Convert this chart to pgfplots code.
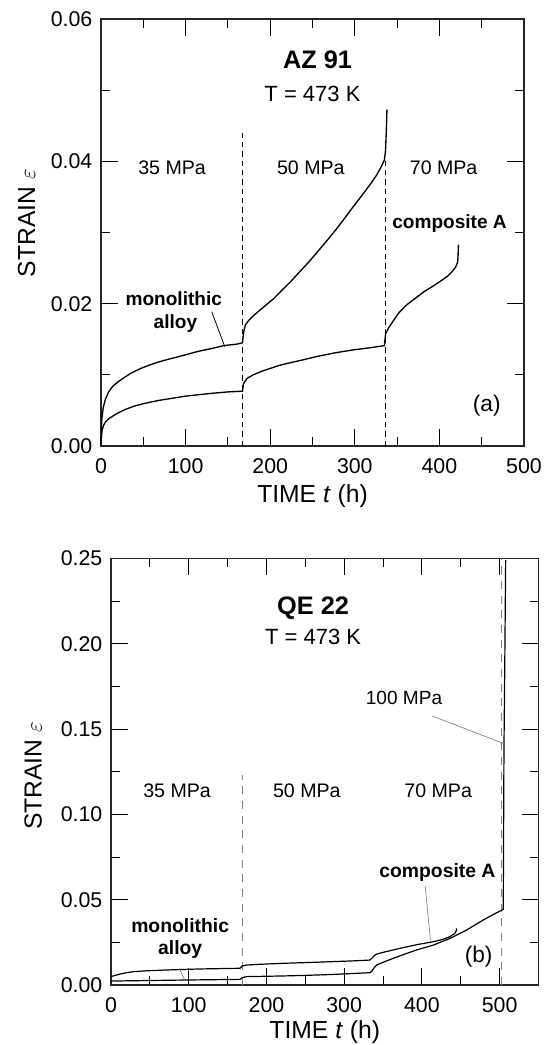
\documentclass[border=0pt]{standalone}
\usepackage{pgfplots}
\pgfplotsset{compat=1.18}
\usepackage{fontspec}
\setmainfont{Liberation Sans}
\newcommand\fs[1]{\fontsize{#1}{#1}\selectfont}
\begin{document}
\begin{tikzpicture}
\useasboundingbox (0,0) rectangle (416.25pt,783.75pt);
\pgfplotsset{
  creep/.style={
    scale only axis, anchor=south west, clip=false,
    axis line style={line width=1pt, draw=black!85},
    tick pos=both, tick align=inside,
    major tick length=12.5pt, minor tick length=6.5pt,
    every tick/.style={black, line width=0.7pt},
    minor x tick num=1, minor y tick num=1,
    scaled ticks=false,
    /pgf/number format/assume math mode=true,
    tick label style={font=\fs{16}},
    yticklabel style={/pgf/number format/fixed, /pgf/number format/fixed zerofill, /pgf/number format/precision=2, xshift=-3pt},
    xticklabel style={yshift=-6pt},
    label style={font=\fs{18.5}},
    ylabel={STRAIN $\varepsilon$},
    xlabel={TIME \textit{t} (h)},
  }
}
% ---------------- panel (a)
\begin{axis}[creep,
  at={(75.75pt,449.25pt)}, width=317.25pt, height=320.25pt,
  xmin=0, xmax=500, ymin=0, ymax=0.06,
  xtick={0,100,...,500}, ytick={0,0.02,0.04,0.06},
  xlabel style={at={(axis description cs:0.5,0)}, anchor=base, yshift=-42.5pt},
  ylabel style={at={(axis description cs:-0.156,0.522)}, anchor=base},
]
\addplot[black, line width=0.6pt, dash pattern=on 4pt off 3pt] coordinates {(167.6,0) (167.6,0.0440)};
\addplot[black, line width=0.6pt, dash pattern=on 4pt off 3pt] coordinates {(335.7,0) (335.7,0.0400)};
% monolithic alloy
\addplot[black, line width=1pt] coordinates {
(0,0) (0.3,0.0020) (1,0.0038) (2.5,0.0053) (5,0.0065) (9,0.0076) (14,0.0084) (20,0.0090)
(26,0.0095) (35,0.0102) (47,0.0109) (58,0.0114) (68,0.0118) (80,0.0122) (90,0.0125)
(99.5,0.0128) (115,0.0133) (131,0.0137) (145,0.0141) (152,0.0142) (160,0.0143) (167.3,0.0145)
(167.8,0.0152) (168.6,0.0160) (170.6,0.0170) (175,0.0177) (182,0.0185) (194,0.0197)
(204,0.0207) (214,0.0219) (225,0.0232) (235,0.0245) (246,0.0259) (256,0.0273) (266,0.0287)
(277,0.0303) (288,0.0320) (298,0.0336) (309,0.0353) (319,0.0369) (326,0.0381) (331.5,0.0393)
(335,0.0402) (336.3,0.0415) (337,0.0435) (337.6,0.0455) (338,0.0473)};
% composite A
\addplot[black, line width=1pt] coordinates {
(0,0) (0.4,0.0012) (1.3,0.0022) (3,0.0029) (5.4,0.0034) (10,0.0039) (18,0.0045) (28,0.0051)
(39,0.0056) (52,0.0060) (68,0.0064) (84,0.0067) (99.5,0.0070) (115,0.0072) (131,0.0074)
(150,0.0076) (167.3,0.0077) (167.8,0.0082) (168.6,0.0088) (172.7,0.0095) (180,0.0100)
(190,0.0105) (200,0.0109) (210,0.0113) (220,0.0116) (235,0.0120) (256,0.0126) (277,0.0131)
(298,0.0135) (318,0.0138) (335,0.0141) (335.7,0.0150) (336.5,0.0158) (340,0.0166) (345,0.0175)
(352,0.0187) (361,0.0198) (372,0.0208) (382,0.0217) (393,0.0225) (403,0.0233) (410,0.0239)
(415,0.0245) (419,0.0251) (421.5,0.0258) (422,0.0265) (422.5,0.0283)};
\draw[black, line width=0.6pt] (axis cs:130.9,0.01886) -- (axis cs:146.3,0.01395);
\node[font=\fs{19}\bfseries, anchor=base] at (axis cs:256,0.0530) {AZ 91};
\node[font=\fs{16.5}, anchor=base] at (axis cs:250,0.0484) {T = 473 K};
\node[font=\fs{14.7}, anchor=base] at (axis cs:84,0.0381) {35 MPa};
\node[font=\fs{14.7}, anchor=base] at (axis cs:248,0.0381) {50 MPa};
\node[font=\fs{14.7}, anchor=base] at (axis cs:405,0.0381) {70 MPa};
\node[font=\fs{14.3}\bfseries, anchor=base] at (axis cs:412,0.0306) {composite A};
\node[font=\fs{14.3}\bfseries, anchor=base] at (axis cs:86,0.0197) {monolithic};
\node[font=\fs{14.3}\bfseries, anchor=base] at (axis cs:88,0.0165) {alloy};
\node[font=\fs{17}, anchor=base] at (axis cs:456,0.0048) {(a)};
\end{axis}
% ---------------- panel (b)
\begin{axis}[creep,
  at={(83.25pt,45pt)}, width=320.6pt, height=320pt,
  xmin=0, xmax=550, ymin=0, ymax=0.25,
  xtick={0,100,...,500}, ytick={0,0.05,...,0.25},
  xlabel style={at={(axis description cs:0.5,0)}, anchor=base, yshift=-40pt},
  ylabel style={at={(axis description cs:-0.162,0.49)}, anchor=base},
]
\addplot[black!50, line width=0.5pt, dash pattern=on 6pt off 5pt] coordinates {(168.6,0) (168.6,0.1233)};
\addplot[black!50, line width=0.5pt, dash pattern=on 6pt off 5pt] coordinates {(502,0) (502,0.25)};
% composite A (upper)
\addplot[black, line width=0.9pt] coordinates {
(0,0.0049) (5,0.0056) (11.6,0.0064) (20,0.0072) (28.7,0.0078) (45,0.0083) (71.6,0.0088)
(114.5,0.0094) (140,0.0096) (166,0.0098) (167.5,0.0105) (168.5,0.0111) (174.5,0.0117)
(190,0.0121) (221.7,0.0127) (255,0.0132) (286,0.0137) (310,0.0141) (333,0.0146)
(336,0.0158) (339.6,0.0176) (344,0.0184) (350,0.0191) (360,0.0202) (372,0.0215) (393,0.0236)
(415,0.0254) (426,0.0266) (436,0.0283) (442.5,0.0303) (444.2,0.0318) (444.7,0.0332)};
% monolithic alloy (lower)
\addplot[black, line width=0.9pt] coordinates {
(0,0.0023) (28.7,0.0025) (93,0.0029) (130,0.0031) (166,0.0033) (167.5,0.0038) (168.5,0.0043)
(174.5,0.0049) (221.7,0.0053) (255,0.0057) (286,0.0062) (310,0.0067) (333,0.0072)
(335.5,0.0080) (336.6,0.0088) (339,0.0103) (341.8,0.0117) (350,0.0133) (363,0.0156)
(378,0.0181) (393,0.0205) (415,0.0234) (436,0.0273) (457.5,0.0322) (479,0.0381)
(494,0.0418) (504.7,0.0443) (505.6,0.1377) (506.5,0.1800) (507.8,0.2490)};
\draw[black!55, line width=0.45pt] (axis cs:413.4,0.1576) -- (axis cs:506.2,0.1413);
\draw[black!55, line width=0.45pt] (axis cs:404.3,0.0578) -- (axis cs:411,0.0262);
\draw[black!55, line width=0.45pt] (axis cs:87.5,0.0098) -- (axis cs:95,0.0029);
\node[font=\fs{19}\bfseries, anchor=base] at (axis cs:260,0.217) {QE 22};
\node[font=\fs{16.5}, anchor=base] at (axis cs:260,0.1993) {T = 473 K};
\node[font=\fs{14.3}, anchor=base] at (axis cs:377,0.1644) {100 MPa};
\node[font=\fs{14.7}, anchor=base] at (axis cs:85,0.1100) {35 MPa};
\node[font=\fs{14.7}, anchor=base] at (axis cs:252,0.1100) {50 MPa};
\node[font=\fs{14.7}, anchor=base] at (axis cs:421,0.1100) {70 MPa};
\node[font=\fs{14.5}\bfseries, anchor=base] at (axis cs:420,0.0630) {composite A};
\node[font=\fs{14.5}\bfseries, anchor=base] at (axis cs:89,0.0309) {monolithic};
\node[font=\fs{14.5}\bfseries, anchor=base] at (axis cs:89,0.0180) {alloy};
\node[font=\fs{17}, anchor=base] at (axis cs:473,0.0133) {(b)};
\end{axis}
\end{tikzpicture}
\end{document}
